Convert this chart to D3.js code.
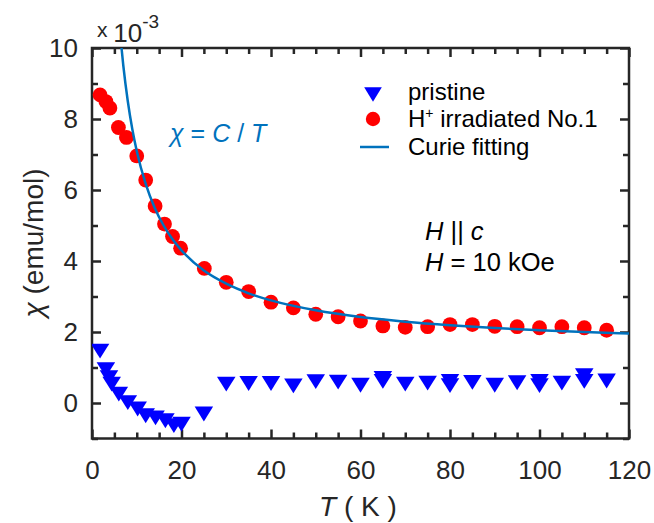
<!DOCTYPE html>
<html>
<head>
<meta charset="utf-8">
<script src="https://cdn.jsdelivr.net/npm/d3@7"></script>
<style>
  body { margin: 0; background: #fff; }
  text { font-family: "Liberation Sans", Arial, sans-serif; fill: #262626; }
</style>
</head>
<body>
<svg width="654" height="523"></svg>
<script>
// pristine sample (blue triangles)
const pristineT   = [1.8, 3.1, 3.8, 4.4, 6.0, 8.0, 10.2, 12.0, 14.2, 16.4, 18.3, 20.0, 25.0,
                     30, 35, 40, 45, 50, 55, 60, 65, 65, 70, 75, 80, 80, 85, 90, 95, 100, 100, 105, 110, 110, 115];
const pristineChi = [1.53, 1.01, 0.78, 0.60, 0.32, 0.08, -0.10, -0.29, -0.35, -0.43, -0.57, -0.53, -0.24,
                     0.60, 0.62, 0.62, 0.55, 0.67, 0.66, 0.57, 0.68, 0.76, 0.60, 0.63, 0.56, 0.68, 0.65, 0.57, 0.64, 0.56, 0.68, 0.63, 0.68, 0.84, 0.69];

// H+ irradiated No.1 (red circles)
const irradT   = [1.8, 3.1, 4.0, 5.9, 7.7, 10.0, 12.0, 14.1, 16.2, 18.0, 19.8, 25.1,
                  30, 35, 40, 45, 50, 55, 60, 65, 70, 75, 80, 85, 90, 95, 100, 105, 110, 115];
const irradChi = [8.68, 8.49, 8.31, 7.76, 7.48, 6.96, 6.28, 5.55, 5.04, 4.69, 4.36, 3.79,
                  3.40, 3.14, 2.84, 2.68, 2.50, 2.43, 2.31, 2.17, 2.13, 2.15, 2.21, 2.21, 2.16, 2.15, 2.12, 2.15, 2.12, 2.05];

// Curie fitting curve
const fitT   = [6.4, 7, 8, 9, 10, 12, 14, 16, 18, 20, 25, 30, 35, 40, 50, 60, 70, 80, 90, 100, 110, 120];
const fitChi = [10.25, 9.50, 8.50, 7.72, 7.10, 6.17, 5.50, 5.00, 4.61, 4.30, 3.73, 3.36, 3.09, 2.89,
                2.61, 2.42, 2.29, 2.19, 2.11, 2.05, 2.00, 1.96];

const xMajor = [0, 20, 40, 60, 80, 100, 120];
const yMajor = [0, 2, 4, 6, 8, 10];

const svg = d3.select("svg");
const pL = 92, pR = 629, pT = 48, pB = 438.5;
const axisColor = "#262626";
const fitColor = "#0072BD";

const x = d3.scaleLinear().domain([0, 120]).range([pL, pR]);
const y = d3.scaleLinear().domain([-1, 10]).range([pB, pT]);

const xMinor = d3.range(0, 121, 5).filter(v => v % 20 !== 0);
const yMinor = d3.range(-1, 10, 1).filter(v => v % 2 !== 0);

svg.append("clipPath").attr("id", "clip")
  .append("rect").attr("x", pL).attr("y", pT).attr("width", pR - pL).attr("height", pB - pT);

// axes with inward ticks on all four sides
function styleAxis(g) {
  g.selectAll("path").remove();
  g.selectAll("line").attr("stroke", axisColor).attr("stroke-width", 2.5);
  g.selectAll("text").style("font-size", "26px").attr("fill", axisColor);
}
svg.append("g").attr("transform", `translate(0,${pB})`)
  .call(d3.axisBottom(x).tickValues(xMajor).tickSize(-9).tickPadding(22).tickFormat(d3.format("d")))
  .call(styleAxis);
svg.append("g").attr("transform", `translate(0,${pB})`)
  .call(d3.axisBottom(x).tickValues(xMinor).tickSize(-6).tickFormat(""))
  .call(styleAxis);
svg.append("g").attr("transform", `translate(0,${pT})`)
  .call(d3.axisTop(x).tickValues(xMajor).tickSize(-9).tickFormat(""))
  .call(styleAxis);
svg.append("g").attr("transform", `translate(0,${pT})`)
  .call(d3.axisTop(x).tickValues(xMinor).tickSize(-6).tickFormat(""))
  .call(styleAxis);
svg.append("g").attr("transform", `translate(${pL},0)`)
  .call(d3.axisLeft(y).tickValues(yMajor).tickSize(-9).tickPadding(14).tickFormat(d3.format("d")))
  .call(styleAxis);
svg.append("g").attr("transform", `translate(${pL},0)`)
  .call(d3.axisLeft(y).tickValues(yMinor).tickSize(-6).tickFormat(""))
  .call(styleAxis);
svg.append("g").attr("transform", `translate(${pR},0)`)
  .call(d3.axisRight(y).tickValues(yMajor).tickSize(-9).tickFormat(""))
  .call(styleAxis);
svg.append("g").attr("transform", `translate(${pR},0)`)
  .call(d3.axisRight(y).tickValues(yMinor).tickSize(-6).tickFormat(""))
  .call(styleAxis);

svg.append("rect")
  .attr("x", pL).attr("y", pT).attr("width", pR - pL).attr("height", pB - pT)
  .attr("fill", "none").attr("stroke", axisColor).attr("stroke-width", 2.5);

// data
const tri = d3.symbol().type(d3.symbolTriangle).size(135);
const plot = svg.append("g").attr("clip-path", "url(#clip)");

plot.selectAll(".pristine")
  .data(pristineT.map((t, i) => [t, pristineChi[i]]))
  .join("path")
  .attr("d", tri)
  .attr("transform", d => `translate(${x(d[0])},${y(d[1])}) rotate(180) scale(1.05,0.97)`)
  .attr("fill", "#0000FF");

plot.selectAll(".irrad")
  .data(irradT.map((t, i) => [t, irradChi[i]]))
  .join("circle")
  .attr("cx", d => x(d[0])).attr("cy", d => y(d[1])).attr("r", 7.4)
  .attr("fill", "#FF0000");

plot.append("path")
  .datum(fitT.map((t, i) => [t, fitChi[i]]))
  .attr("d", d3.line().x(d => x(d[0])).y(d => y(d[1])).curve(d3.curveMonotoneX))
  .attr("fill", "none").attr("stroke", fitColor).attr("stroke-width", 2.5);

// axis titles
const xt = svg.append("text").attr("x", 358).attr("y", 516).attr("text-anchor", "middle").style("font-size", "28px");
xt.append("tspan").attr("font-style", "italic").text("T");
xt.append("tspan").text(" ( K )");

const yt = svg.append("text").attr("transform", "translate(43,243) rotate(-90)")
  .attr("text-anchor", "middle").style("font-size", "28px");
yt.append("tspan").attr("font-style", "italic").text("χ");
yt.append("tspan").text(" (emu/mol)");

// exponent label
const ex = svg.append("text").attr("x", 97).attr("y", 42);
ex.append("tspan").style("font-size", "21px").attr("dy", -5).text("x ");
ex.append("tspan").style("font-size", "26px").attr("dy", 5).text("10");
ex.append("tspan").style("font-size", "19px").attr("dy", -14).text("-3");

// Curie law annotation
const cl = svg.append("text").attr("x", 170).attr("y", 142).style("font-size", "25px");
cl.append("tspan").attr("font-style", "italic").style("fill", fitColor).text("χ");
cl.append("tspan").style("fill", fitColor).text(" = ");
cl.append("tspan").attr("font-style", "italic").style("fill", fitColor).text("C");
cl.append("tspan").style("fill", fitColor).text(" / ");
cl.append("tspan").attr("font-style", "italic").style("fill", fitColor).text("T");

// field annotation
const h1 = svg.append("text").attr("x", 425).attr("y", 240).style("font-size", "25.5px").style("fill", "#000");
h1.append("tspan").attr("font-style", "italic").text("H");
h1.append("tspan").text(" || ");
h1.append("tspan").attr("font-style", "italic").text("c");
const h2 = svg.append("text").attr("x", 425).attr("y", 271).style("font-size", "25.5px").style("fill", "#000");
h2.append("tspan").attr("font-style", "italic").text("H");
h2.append("tspan").text(" = 10 kOe");

// legend
const lg = svg.append("g");
lg.append("path").attr("d", tri)
  .attr("transform", `translate(373,92) rotate(180) scale(1.0,0.95)`).attr("fill", "#0000FF");
lg.append("circle").attr("cx", 373).attr("cy", 119).attr("r", 7.2).attr("fill", "#FF0000");
lg.append("line").attr("x1", 360).attr("x2", 389).attr("y1", 147).attr("y2", 147)
  .attr("stroke", fitColor).attr("stroke-width", 2.5);
const legendRows = [["pristine", 100], ["irr", 127], ["Curie fitting", 155]];
legendRows.forEach(([s, yy]) => {
  const t = lg.append("text").attr("x", 408).attr("y", yy).style("font-size", "24px").style("fill", "#000");
  if (s === "irr") {
    t.append("tspan").text("H");
    t.append("tspan").attr("dy", -9).style("font-size", "14px").text("+");
    t.append("tspan").attr("dy", 9).text(" irradiated No.1");
  } else {
    t.text(s);
  }
});
</script>
</body>
</html>
